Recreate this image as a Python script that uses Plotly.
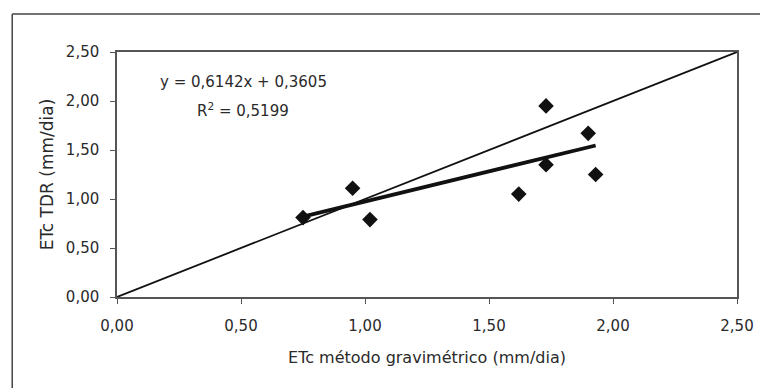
import plotly.graph_objects as go

# Data
etc_grav = [0.75, 0.95, 1.02, 1.62, 1.73, 1.73, 1.90, 1.93]
etc_tdr = [0.81, 1.11, 0.79, 1.05, 1.95, 1.35, 1.67, 1.25]
slope = 0.6142
intercept = 0.3605
identity_x = [0.0, 2.5]
tick_vals = [0.0, 0.5, 1.0, 1.5, 2.0, 2.5]
tick_text = ["0,00", "0,50", "1,00", "1,50", "2,00", "2,50"]

trend_x = [min(etc_grav), max(etc_grav)]
trend_y = [slope * v + intercept for v in trend_x]

fig = go.Figure()
fig.add_trace(go.Scatter(x=identity_x, y=identity_x, mode="lines",
                         line=dict(color="#111", width=1.8), showlegend=False,
                         hoverinfo="skip"))
fig.add_trace(go.Scatter(x=trend_x, y=trend_y, mode="lines",
                         line=dict(color="#111", width=3.8), showlegend=False))
fig.add_trace(go.Scatter(x=etc_grav, y=etc_tdr, mode="markers",
                         marker=dict(symbol="diamond", size=12, color="#111"),
                         showlegend=False))

font = "DejaVu Sans, Liberation Sans, sans-serif"
txt_color = "#2a2a2a"
axis_common = dict(
    range=[0, 2.5], tickvals=tick_vals, ticktext=tick_text,
    showgrid=False, zeroline=False, showline=True, linecolor="#555",
    linewidth=1.5, mirror=True, ticks="outside", ticklen=5, tickcolor="#555",
    tickwidth=1.2,
    tickfont=dict(family=font, size=15, color=txt_color),
)

fig.update_layout(
    width=760, height=380,
    margin=dict(l=109, r=31, t=44, b=91),
    paper_bgcolor="white", plot_bgcolor="white",
    xaxis=dict(**axis_common, ticklabelstandoff=9,
               title=dict(text="ETc método gravimétrico (mm/dia)",
                          font=dict(family=font, size=16, color=txt_color),
                          standoff=18)),
    yaxis=dict(**axis_common, ticklabelstandoff=8,
               title=dict(text="ETc TDR (mm/dia)",
                          font=dict(family=font, size=17, color=txt_color),
                          standoff=8)),
    shapes=[
        dict(type="line", xref="paper", yref="paper",
             x0=-0.169, x1=1.1, y0=1.155, y1=1.155,
             line=dict(color="#444", width=1.5), layer="below"),
        dict(type="line", xref="paper", yref="paper",
             x0=-0.169, x1=-0.169, y0=-0.45, y1=1.155,
             line=dict(color="#444", width=1.5), layer="below"),
    ],
    annotations=[
        dict(x=0.165, y=2.19, xref="x", yref="y", xanchor="left",
             text="y = 0,6142x + 0,3605", showarrow=False,
             font=dict(family=font, size=15, color=txt_color)),
        dict(x=0.315, y=1.91, xref="x", yref="y", xanchor="left",
             text="R<sup>2</sup> = 0,5199", showarrow=False,
             font=dict(family=font, size=15, color=txt_color)),
    ],
)

fig.write_html("out.html")
